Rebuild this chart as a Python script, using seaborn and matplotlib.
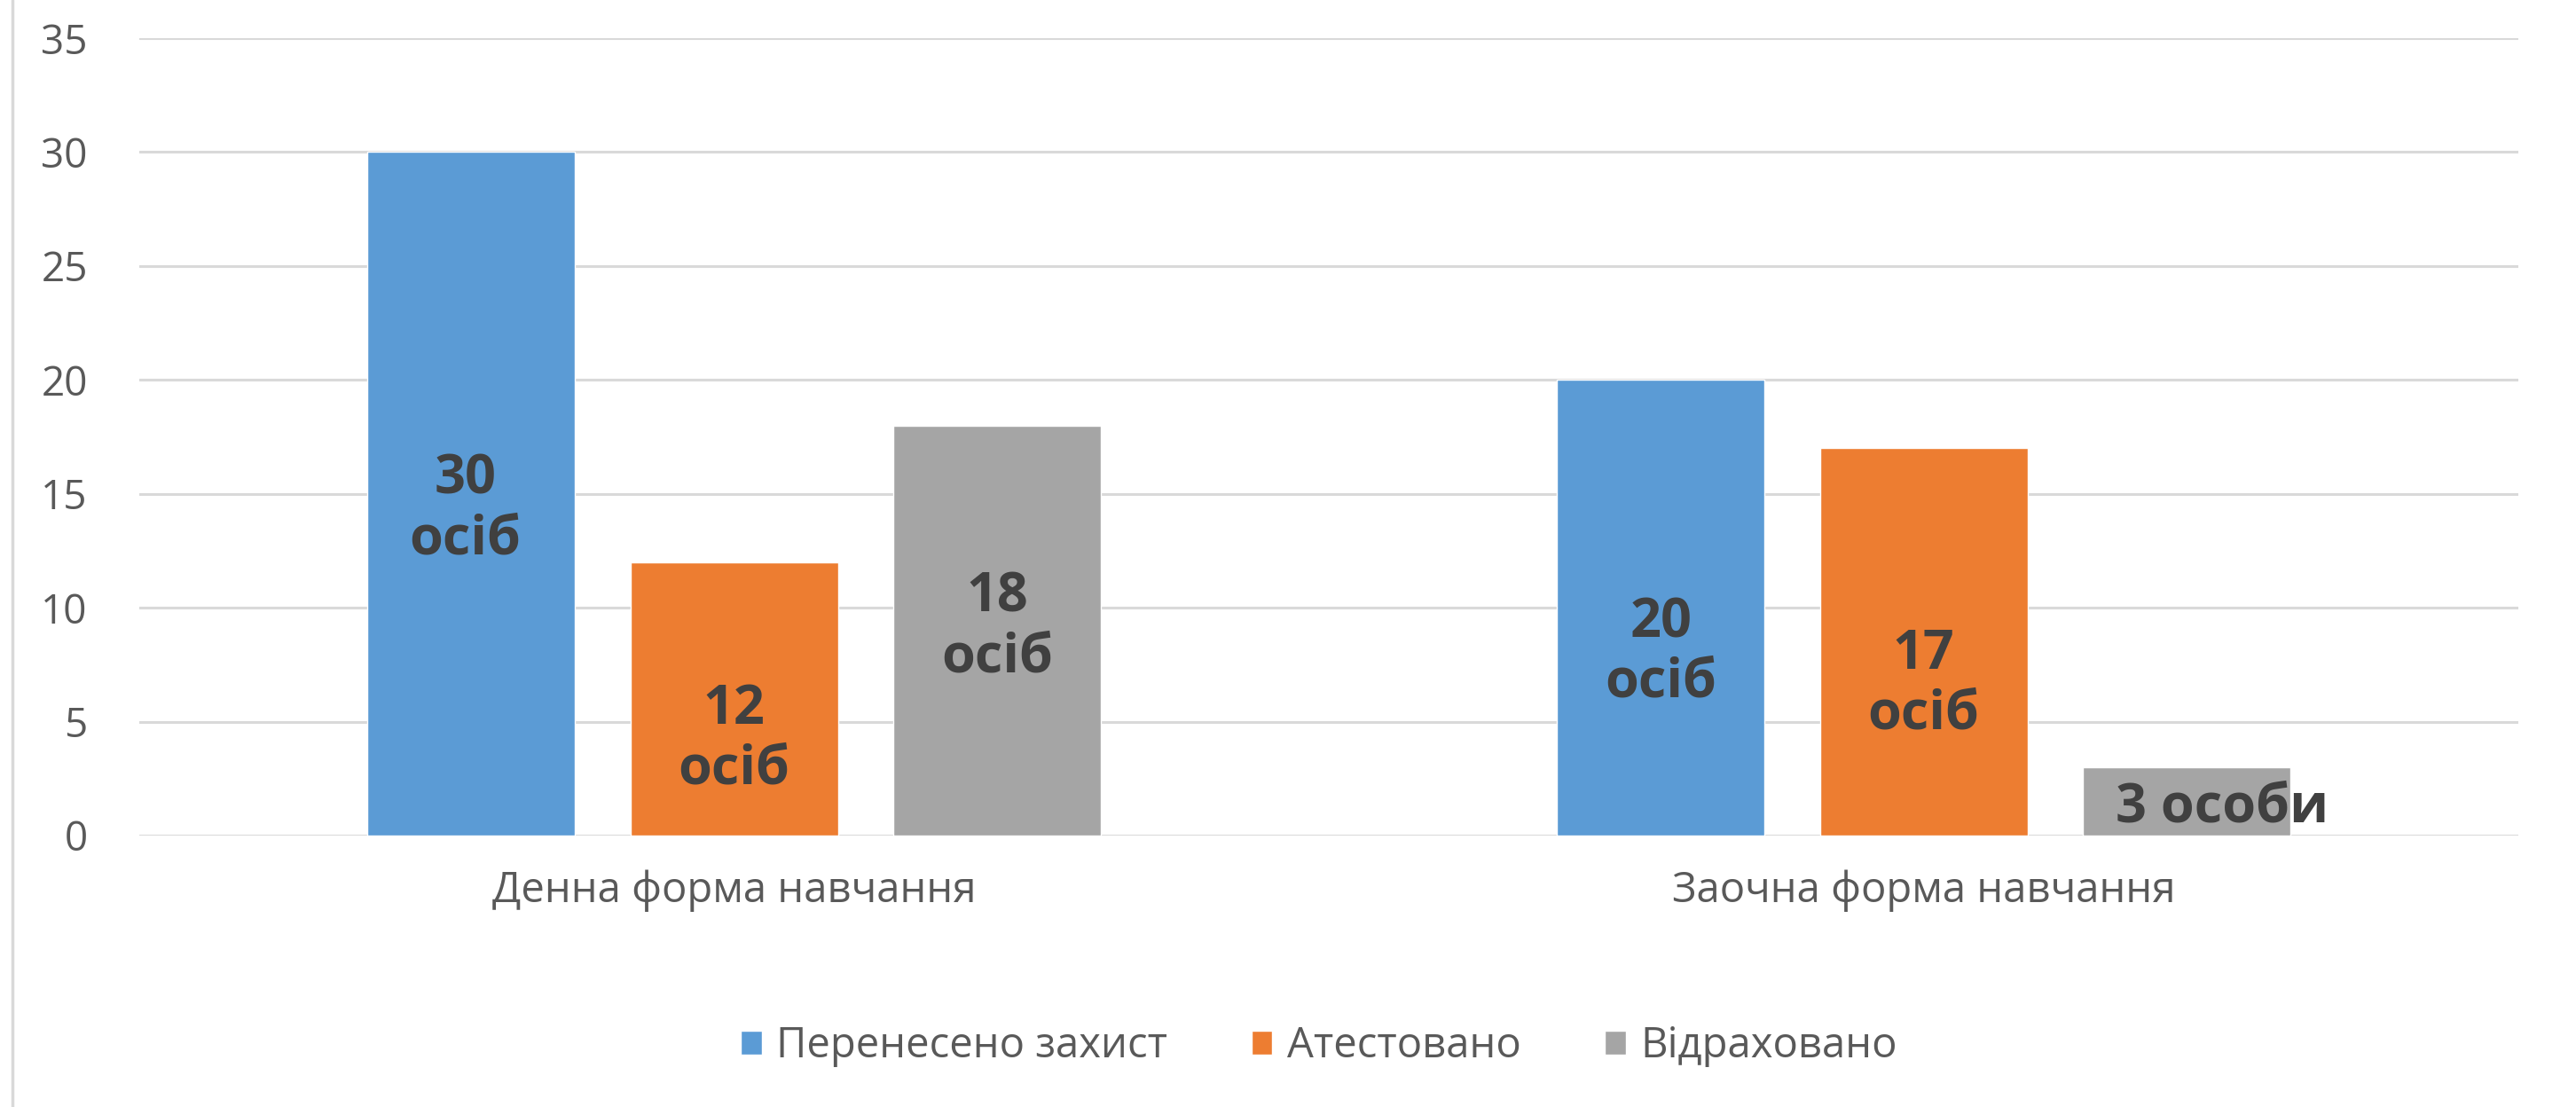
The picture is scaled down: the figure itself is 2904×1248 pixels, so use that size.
import matplotlib
matplotlib.use('Agg')
import matplotlib.pyplot as plt
from matplotlib.lines import Line2D
from matplotlib.patches import Patch
import seaborn as sns
import pandas as pd

# data
categories = ['Денна форма навчання', 'Заочна форма навчання']
series = ['Перенесено захист', 'Атестовано', 'Відраховано']
transferred = [30, 20]
certified = [12, 17]
expelled = [18, 3]
bar_labels = [['30\nосіб', '20\nосіб'],
              ['12\nосіб', '17\nосіб'],
              ['18\nосіб', '3 особи']]
y_ticks = [0, 5, 10, 15, 20, 25, 30, 35]

colors = ['#5B9BD5', '#ED7D31', '#A5A5A5']
# manual nudges of the data labels (data units), as in the original chart
label_dy = [[-0.7, -2.0], [-1.8, -1.9], [0.1, -0.3]]
label_dx = [[-0.005, 0.0], [0.0, 0.0], [0.0, 0.03]]

rows = []
for name, vals in zip(series, [transferred, certified, expelled]):
    for cat, v in zip(categories, vals):
        rows.append({'category': cat, 'series': name, 'value': v})
df = pd.DataFrame(rows)

sns.set_style('white')
plt.rcParams['font.family'] = ['Open Sans', 'DejaVu Sans']

fig = plt.figure(figsize=(29.04, 12.48), dpi=100)
ax = fig.add_axes([0.0541, 0.2452, 0.9236, 0.7203])

sns.barplot(data=df, x='category', y='value', hue='series', order=categories,
            hue_order=series, palette=colors, width=0.663, gap=0.21,
            saturation=1, legend=False, ax=ax)

# data labels in the middle of each bar
for i, cont in enumerate(ax.containers):
    for j, bar in enumerate(cont):
        h = bar.get_height()
        ax.text(bar.get_x() + bar.get_width() / 2 + label_dx[i][j],
                h / 2 + label_dy[i][j], bar_labels[i][j],
                ha='center', va='center', fontsize=44, fontweight='bold',
                color='#404040', linespacing=1.15)

ax.set_ylim(0, 35)
ax.set_xlim(-0.5, 1.5)
ax.set_yticks(y_ticks)
ax.yaxis.grid(True, color='#D9D9D9', linewidth=2.2)
ax.set_axisbelow(True)
for s in ax.spines.values():
    s.set_visible(False)
ax.tick_params(axis='y', length=0, pad=42, labelsize=33, labelcolor='#595959')
ax.tick_params(axis='x', length=0, pad=28, labelsize=34, labelcolor='#595959')
ax.set_xlabel('')
ax.set_ylabel('')

handles = [Patch(facecolor=c, label=n) for c, n in zip(colors, series)]
fig.legend(handles=handles, loc='center', bbox_to_anchor=(0.512, 0.055), ncol=3,
           frameon=False, fontsize=34, labelcolor='#595959', handlelength=0.5,
           handleheight=0.5, handletextpad=0.35, columnspacing=2.0)

# chart border on the left edge
fig.add_artist(Line2D([14 / 2904, 14 / 2904], [0, 1], transform=fig.transFigure,
                      color='#D9D9D9', linewidth=2.5))

fig.savefig('out.png', dpi=100, facecolor='white')
